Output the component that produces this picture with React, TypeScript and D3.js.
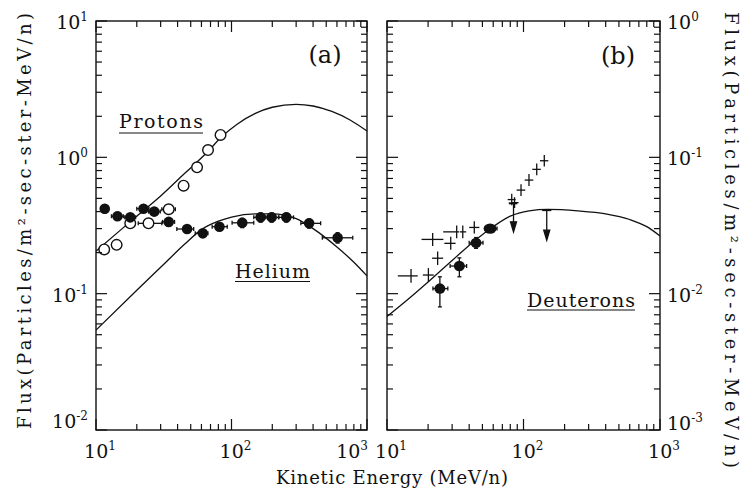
import React from "react";
import * as d3 from "d3";

// ---------- data ----------
// model curves (E in MeV/n, flux)
const protonCurveE = [10, 15, 20, 30, 45, 65, 85, 110, 150, 200, 300, 400, 550, 750, 1000];
const protonCurveF = [0.205, 0.29, 0.37, 0.52, 0.76, 1.07, 1.42, 1.75, 2.1, 2.33, 2.45, 2.38, 2.17, 1.88, 1.56];
const heliumCurveE = [10, 20, 30, 45, 60, 80, 100, 150, 200, 300, 400, 600, 800, 1000];
const heliumCurveF = [0.054, 0.106, 0.156, 0.23, 0.295, 0.34, 0.365, 0.385, 0.385, 0.355, 0.3, 0.22, 0.17, 0.135];
const deuteronCurveE = [10, 15, 20, 30, 45, 60, 80, 110, 150, 250, 400, 600, 800, 1000];
const deuteronCurveF = [0.0068, 0.0095, 0.0122, 0.0175, 0.025, 0.031, 0.037, 0.0405, 0.0415, 0.0405, 0.0385, 0.035, 0.031, 0.0265];

// measured points: [E, F, Elo, Ehi, Flo, Fhi]
const heliumData = [
  [11.6, 0.42, 11.0, 12.3, 0.39, 0.45],
  [14.4, 0.37, 13.0, 15.9, 0.345, 0.395],
  [17.9, 0.363, 16.3, 19.6, 0.34, 0.385],
  [22.4, 0.42, 20.0, 24.6, 0.395, 0.445],
  [26.9, 0.4, 24.4, 29.8, 0.375, 0.425],
  [34.4, 0.336, 31.0, 38.0, 0.315, 0.357],
  [47, 0.298, 39.5, 52.6, 0.28, 0.316],
  [61.4, 0.277, 54, 67, 0.26, 0.295],
  [81.5, 0.31, 72, 93, 0.29, 0.33],
  [120, 0.331, 101, 146, 0.305, 0.357],
  [164, 0.363, 146, 184, 0.335, 0.39],
  [198, 0.363, 179, 224, 0.335, 0.39],
  [254, 0.363, 222, 287, 0.335, 0.39],
  [374, 0.328, 325, 455, 0.303, 0.353],
  [607, 0.257, 468, 785, 0.235, 0.28],
];
const protonData = [
  [11.5, 0.211, 11.5, 11.5, 0.211, 0.211],
  [14.2, 0.228, 14.2, 14.2, 0.228, 0.228],
  [17.9, 0.328, 17.9, 17.9, 0.328, 0.328],
  [24.4, 0.328, 20.5, 30.6, 0.328, 0.328],
  [34.4, 0.416, 30.6, 38.5, 0.416, 0.416],
  [44.3, 0.62, 44.3, 44.3, 0.62, 0.62],
  [55.7, 0.845, 55.7, 55.7, 0.845, 0.845],
  [67.1, 1.13, 67.1, 67.1, 1.13, 1.13],
  [83, 1.46, 83, 83, 1.46, 1.46],
];
const deuteronData = [
  [24.4, 0.0109, 21.7, 27.9, 0.008, 0.0133],
  [33.9, 0.01595, 29.0, 38.3, 0.0133, 0.0183],
  [44.9, 0.0236, 40.0, 50.5, 0.0215, 0.0258],
  [56.9, 0.03, 52.0, 64.0, 0.029, 0.031],
];
const otherDeuteronData = [
  [15.0, 0.0135, 12.0, 16.8, 0.0120, 0.0152],
  [20.1, 0.0137, 18.3, 22.0, 0.0122, 0.0154],
  [23.5, 0.0182, 21.4, 25.8, 0.0162, 0.0204],
  [21.6, 0.025, 17.9, 25.9, 0.0224, 0.0279],
  [29.3, 0.0234, 26.3, 31.8, 0.021, 0.0261],
  [32.4, 0.0284, 25.8, 33.8, 0.0255, 0.0316],
  [35.9, 0.0284, 34.2, 38.0, 0.0255, 0.0316],
  [43.6, 0.0306, 40.0, 47.5, 0.0276, 0.034],
  [82.0, 0.049, 76.5, 87.5, 0.0445, 0.054],
  [86.0, 0.0465, 82.5, 92.0, 0.0425, 0.051],
  [95.9, 0.0575, 89.0, 103, 0.052, 0.0635],
  [109.7, 0.0681, 102, 118, 0.0615, 0.0755],
  [125, 0.0816, 116, 134, 0.0738, 0.0902],
  [142, 0.0944, 132, 152, 0.0855, 0.104],
];
// upper limits: [E, Ftop, Farrow, Elo, Ehi]
const deuteronUpperLimits = [
  [84.5, 0.046, 0.0284, 78, 90],
  [148, 0.041, 0.0247, 137, 160],
];

// axis ticks / labels
const xDomain = [10, 1000];
const xTickValues = [10, 100, 1000];
const xTickExps = ["1", "2", "3"];
const leftYDomain = [0.01, 10];
const leftYTickValues = [10, 1, 0.1, 0.01];
const leftYTickExps = ["1", "0", "-1", "-2"];
const rightYDomain = [0.001, 1];
const rightYTickValues = [1, 0.1, 0.01, 0.001];
const rightYTickExps = ["0", "-1", "-2", "-3"];
const yTitle = "Flux(Particles/m²-sec-ster-MeV/n)";
const xTitle = "Kinetic Energy (MeV/n)";

const SERIF = "'DejaVu Serif', 'Liberation Serif', serif";

function minorTicks(domain: number[]) {
  const out: { v: number; major: boolean }[] = [];
  const lo = Math.round(Math.log10(domain[0]));
  const hi = Math.round(Math.log10(domain[1]));
  for (let e = lo; e <= hi; e++) {
    for (let k = 1; k <= 9; k++) {
      const v = k * Math.pow(10, e);
      if (v > domain[1] * 1.0001) break;
      out.push({ v, major: k === 1 });
    }
  }
  return out;
}

function Sup({ x, y, base, exp, anchor }: any) {
  return (
    <text x={x} y={y} textAnchor={anchor} fontFamily={SERIF} fontSize={19} fill="#111">
      <tspan>{base}</tspan>
      <tspan dy={-8} fontSize={12}>{exp}</tspan>
    </text>
  );
}

function Panel({ x, y, children }: any) {
  const [x0, x1] = x.range();
  const [y0, y1] = y.range(); // y0 bottom, y1 top
  const xt = minorTicks(x.domain());
  const yt = minorTicks(y.domain());
  const MA = 11, MI = 6;
  return (
    <g>
      {children}
      {xt.map((t, i) => {
        const px = x(t.v);
        const L = t.major ? MA : MI;
        return (
          <g key={"x" + i} stroke="#111" strokeWidth={1.2}>
            <line x1={px} x2={px} y1={y0} y2={y0 - L} />
            <line x1={px} x2={px} y1={y1} y2={y1 + L} />
          </g>
        );
      })}
      {yt.map((t, i) => {
        const py = y(t.v);
        const L = t.major ? MA : MI;
        return (
          <g key={"y" + i} stroke="#111" strokeWidth={1.2}>
            <line x1={x0} x2={x0 + L} y1={py} y2={py} />
            <line x1={x1} x2={x1 - L} y1={py} y2={py} />
          </g>
        );
      })}
      <rect x={x0} y={y1} width={x1 - x0} height={y0 - y1} fill="none" stroke="#111" strokeWidth={1.4} />
    </g>
  );
}

function ErrBars({ data, x, y, caps = true }: any) {
  return (
    <g stroke="#111" strokeWidth={1.3}>
      {data.map((d: number[], i: number) => (
        <g key={i}>
          {d[2] !== d[3] && <line x1={x(d[2])} x2={x(d[3])} y1={y(d[1])} y2={y(d[1])} />}
          {d[4] !== d[5] && <line x1={x(d[0])} x2={x(d[0])} y1={y(d[4])} y2={y(d[5])} />}
          {caps && d[2] !== d[3] && (
            <>
              <line x1={x(d[2])} x2={x(d[2])} y1={y(d[1]) - 2} y2={y(d[1]) + 2} />
              <line x1={x(d[3])} x2={x(d[3])} y1={y(d[1]) - 2} y2={y(d[1]) + 2} />
            </>
          )}
          {caps && d[4] !== d[5] && (
            <>
              <line x1={x(d[0]) - 2} x2={x(d[0]) + 2} y1={y(d[4])} y2={y(d[4])} />
              <line x1={x(d[0]) - 2} x2={x(d[0]) + 2} y1={y(d[5])} y2={y(d[5])} />
            </>
          )}
        </g>
      ))}
    </g>
  );
}

export default function App() {
  const xA = d3.scaleLog().domain(xDomain).range([96, 367]);
  const yA = d3.scaleLog().domain(leftYDomain).range([430, 21]);
  const xB = d3.scaleLog().domain(xDomain).range([387, 660]);
  const yB = d3.scaleLog().domain(rightYDomain).range([430, 21]);

  const mkLine = (x: any, y: any) =>
    d3.line<number[]>().x((d) => x(d[0])).y((d) => y(d[1])).curve(d3.curveMonotoneX);

  const protonCurve = protonCurveE.map((e, i) => [e, protonCurveF[i]]);
  const heliumCurve = heliumCurveE.map((e, i) => [e, heliumCurveF[i]]);
  const deuteronCurve = deuteronCurveE.map((e, i) => [e, deuteronCurveF[i]]);

  return (
    <svg width={748} height={490} style={{ position: "absolute", left: 0, top: 0, background: "#fff" }}>
      <rect x={0} y={0} width={748} height={490} fill="#fff" />
      {/* Panel (a) */}
      <Panel x={xA} y={yA}>
        <path d={mkLine(xA, yA)(protonCurve) || ""} fill="none" stroke="#111" strokeWidth={1.3} />
        <path d={mkLine(xA, yA)(heliumCurve) || ""} fill="none" stroke="#111" strokeWidth={1.3} />
        <ErrBars data={heliumData} x={xA} y={yA} />
        <ErrBars data={protonData} x={xA} y={yA} />
        {protonData.map((d, i) => (
          <circle key={"p" + i} cx={xA(d[0])} cy={yA(d[1])} r={5.3} fill="#fff" stroke="#111" strokeWidth={1.4} />
        ))}
        {heliumData.map((d, i) => (
          <circle key={"h" + i} cx={xA(d[0])} cy={yA(d[1])} r={5.3} fill="#111" />
        ))}
        <text x={325} y={63} textAnchor="middle" fontFamily={SERIF} fontSize={24} fill="#111">(a)</text>
        <text x={119} y={128} fontFamily={SERIF} fontSize={19} textLength={84} lengthAdjust="spacing" fill="#111">Protons</text>
        <line x1={119} x2={203} y1={133} y2={133} stroke="#111" strokeWidth={1} />
        <text x={235} y={278} fontFamily={SERIF} fontSize={19} textLength={75} lengthAdjust="spacing" fill="#111">Helium</text>
        <line x1={235} x2={310} y1={281.5} y2={281.5} stroke="#111" strokeWidth={1} />
      </Panel>

      {/* Panel (b) */}
      <Panel x={xB} y={yB}>
        <path d={mkLine(xB, yB)(deuteronCurve) || ""} fill="none" stroke="#111" strokeWidth={1.3} />
        <ErrBars data={otherDeuteronData} x={xB} y={yB} caps={false} />
        <ErrBars data={deuteronData} x={xB} y={yB} />
        {deuteronData.map((d, i) => (
          <ellipse key={"d" + i} cx={xB(d[0])} cy={yB(d[1])} rx={i === 3 ? 6.5 : 5.5} ry={5.2} fill="#111" />
        ))}
        {deuteronUpperLimits.map((d, i) => {
          const px = xB(d[0]);
          const yt = yB(d[1]);
          const ya = yB(d[2]);
          return (
            <g key={"u" + i} stroke="#111" strokeWidth={1.3} fill="#111">
              <line x1={xB(d[3])} x2={xB(d[4])} y1={yt} y2={yt} strokeWidth={2} />
              <line x1={px} x2={px} y1={yt} y2={ya - 6} />
              <path d={`M${px - 3},${ya - 10} L${px + 3},${ya - 10} L${px},${ya} Z`} />
            </g>
          );
        })}
        <text x={618} y={64} textAnchor="middle" fontFamily={SERIF} fontSize={24} fill="#111">(b)</text>
        <text x={527} y={307} fontFamily={SERIF} fontSize={19} textLength={108} lengthAdjust="spacing" fill="#111">Deuterons</text>
        <line x1={527} x2={635} y1={310} y2={310} stroke="#111" strokeWidth={1} />
      </Panel>

      {/* left y tick labels */}
      {leftYTickValues.map((v, i) => (
        <Sup key={"ly" + i} x={88} y={i === leftYTickValues.length - 1 ? yA(v) - 2 : yA(v) + 8} base="10" exp={leftYTickExps[i]} anchor="end" />
      ))}
      {/* right y tick labels */}
      {rightYTickValues.map((v, i) => (
        <Sup key={"ry" + i} x={667} y={i === rightYTickValues.length - 1 ? yB(v) : yB(v) + 8} base="10" exp={rightYTickExps[i]} anchor="start" />
      ))}
      {/* x tick labels */}
      {xTickValues.map((v, i) => (
        <Sup key={"xa" + i} x={i === 2 ? 368 : xA(v) + 4} y={458} base="10" exp={xTickExps[i]} anchor={i === 2 ? "end" : "middle"} />
      ))}
      {xTickValues.map((v, i) => (
        <Sup key={"xb" + i} x={xB(v) + 4} y={458} base="10" exp={xTickExps[i]} anchor="middle" />
      ))}

      {/* axis titles */}
      <text transform="translate(31,221) rotate(-90)" textAnchor="middle" fontFamily={SERIF} fontSize={18} textLength={416} lengthAdjust="spacing" fill="#111">{yTitle}</text>
      <text transform="translate(725,240) rotate(90)" textAnchor="middle" fontFamily={SERIF} fontSize={18} textLength={456} lengthAdjust="spacing" fill="#111">{yTitle}</text>
      <text x={392} y={484} textAnchor="middle" fontFamily={SERIF} fontSize={18} textLength={232} lengthAdjust="spacing" fill="#111">{xTitle}</text>
    </svg>
  );
}
